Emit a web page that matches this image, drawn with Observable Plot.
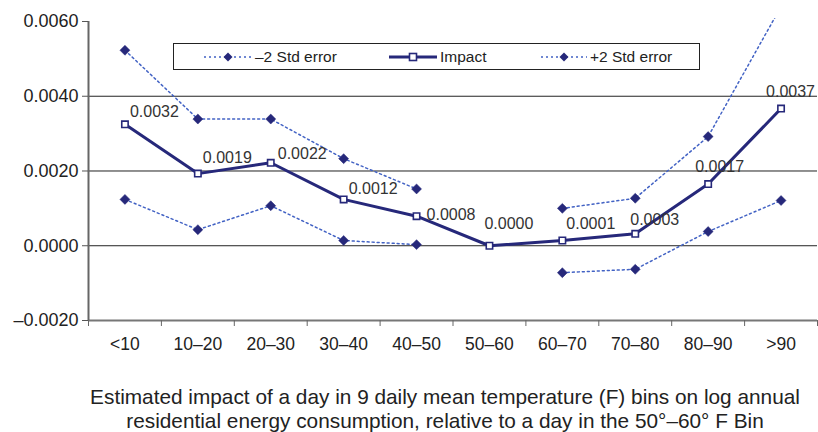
<!DOCTYPE html>
<html>
<head>
<meta charset="utf-8">
<script src="https://cdn.jsdelivr.net/npm/d3@7"></script>
<script src="https://cdn.jsdelivr.net/npm/@observablehq/plot@0.6"></script>
<style>
  html, body { margin: 0; padding: 0; background: #fff; overflow: hidden; }
  body { width: 818px; height: 432px; font-family: "Liberation Sans", Arial, sans-serif; }
  #wrap { position: relative; width: 818px; }
  #legend { position: absolute; left: 173px; top: 43px; width: 525px; height: 25px;
            border: 1.5px solid #222; background: #fff; }
  .item { position: absolute; top: 0; height: 25px; display: flex; align-items: center;
          font-size: 15.5px; color: #222; white-space: nowrap; }
  .item svg { display: block; margin-right: 3px; }
  #caption { width: 746px; padding-left: 72px; margin-top: 15px; text-align: center;
             font-size: 20.8px; line-height: 24px; color: #222; white-space: nowrap; }
</style>
</head>
<body>
<div id="wrap">
  <div id="chart"></div>
  <div id="legend"></div>
</div>
<div id="caption"></div>
<script>
// ---- data ----
const categories = ["<10", "10–20", "20–30", "30–40", "40–50", "50–60", "60–70", "70–80", "80–90", ">90"];
const impact     = [0.00325, 0.00193, 0.00222, 0.00124, 0.00079, 0.00000, 0.00014, 0.00032, 0.00165, 0.00367];
const upperSE    = [0.00523, 0.00339, 0.00339, 0.00233, 0.00152, null, 0.00100, 0.00127, 0.00292, 0.00640];
const lowerSE    = [0.00124, 0.00043, 0.00107, 0.00014, 0.00003, null, -0.00072, -0.00063, 0.00038, 0.00121];
const impactLabels = ["0.0032", "0.0019", "0.0022", "0.0012", "0.0008", "0.0000", "0.0001", "0.0003", "0.0017", "0.0037"];
const yTicks = [-0.002, 0.000, 0.002, 0.004, 0.006];
const gridValues = [0.000, 0.002, 0.004];
const legendLabels = ["–2 Std error", "Impact", "+2 Std error"];
const captionLines = [
  "Estimated impact of a day in 9 daily mean temperature (F) bins on log annual",
  "residential energy consumption, relative to a day in the 50°–60° F Bin"
];

// ---- layout / style (not data) ----
const labelNudge = [[5, -12], [5, -16], [7, -9], [5, -11], [10, -1], [-5, -22], [4, -17], [-5, -14], [-13, -17], [-15, -17]];
const navy = "#26287a";
const dotBlue = "#4262c4";
const font = "'Liberation Sans', Arial, sans-serif";

const idx = categories.map((_, i) => i);
const bounds = d3.range(categories.length + 1);
const xc = i => i + 0.5;
const fmt = d => (d < 0 ? "–" : "") + Math.abs(d).toFixed(4);

const seLine = arr => Plot.line(idx, {x: xc, y: i => arr[i], stroke: dotBlue, strokeWidth: 1.5, strokeDasharray: "2,3", clip: true});
const seDots = arr => Plot.dot(idx.filter(i => arr[i] != null), {x: xc, y: i => arr[i], symbol: "diamond2", r: 4.5, fill: navy, stroke: navy, strokeWidth: 0.5, clip: true});

const chart = Plot.plot({
  width: 818,
  height: 370,
  marginLeft: 88,
  marginRight: 1,
  marginTop: 18,
  marginBottom: 50,
  style: {fontFamily: font, background: "#fff", color: "#222"},
  x: {type: "linear", domain: [0, categories.length]},
  y: {domain: [-0.002, 0.00608]},
  marks: [
    Plot.ruleY(gridValues, {stroke: "#222", strokeWidth: 1}),
    Plot.ruleY([yTicks[0]], {stroke: "#777", strokeWidth: 2}),
    Plot.ruleX([0], {y1: yTicks[0], y2: yTicks[yTicks.length - 1], stroke: "#666", strokeWidth: 2}),
    Plot.axisY({ticks: yTicks, tickFormat: fmt, tickSize: 6, tickPadding: 4, fontSize: 18, label: null, stroke: "#555"}),
    Plot.axisX({ticks: bounds, tickFormat: () => "", tickSize: 6, label: null, stroke: "#666"}),
    Plot.axisX({ticks: idx.map(xc), tickFormat: d => categories[Math.round(d - 0.5)], tickSize: 0, tickPadding: 17, fontSize: 17.5, label: null}),
    seLine(upperSE),
    seLine(lowerSE),
    seDots(upperSE),
    seDots(lowerSE),
    Plot.line(idx, {x: xc, y: i => impact[i], stroke: navy, strokeWidth: 3}),
    Plot.dot(idx, {x: xc, y: i => impact[i], symbol: "square", r: 3.6, fill: "#fff", stroke: navy, strokeWidth: 1.6}),
    ...idx.map(i => Plot.text([i], {x: xc, y: j => impact[j], text: j => impactLabels[j], textAnchor: "start", lineAnchor: "middle", dx: labelNudge[i][0], dy: labelNudge[i][1], fontSize: 16, fill: "#333"}))
  ]
});
document.getElementById("chart").appendChild(chart);

// ---- legend (overlay inside plot area) ----
const legend = document.getElementById("legend");
const legendPos = [30, 215, 367];
const sampleW = [48, 48, 46];
legendLabels.forEach((lab, k) => {
  const item = document.createElement("div");
  item.className = "item";
  item.style.left = legendPos[k] + "px";
  const w = sampleW[k];
  let svg;
  if (k === 1) {
    svg = `<svg width="${w}" height="12"><line x1="0" y1="6" x2="${w}" y2="6" stroke="${navy}" stroke-width="3"/><rect x="${w/2-3.5}" y="2.5" width="7" height="7" fill="#fff" stroke="${navy}" stroke-width="1.6"/></svg>`;
  } else {
    svg = `<svg width="${w}" height="12"><line x1="0" y1="6" x2="${w}" y2="6" stroke="${dotBlue}" stroke-width="1.5" stroke-dasharray="2,3"/><path d="M${w/2},1.5 L${w/2+4.5},6 L${w/2},10.5 L${w/2-4.5},6Z" fill="${navy}"/></svg>`;
  }
  item.innerHTML = svg + `<span>${lab}</span>`;
  legend.appendChild(item);
});

// ---- caption ----
document.getElementById("caption").innerHTML = captionLines.map(s => `<div>${s}</div>`).join("");
</script>
</body>
</html>
